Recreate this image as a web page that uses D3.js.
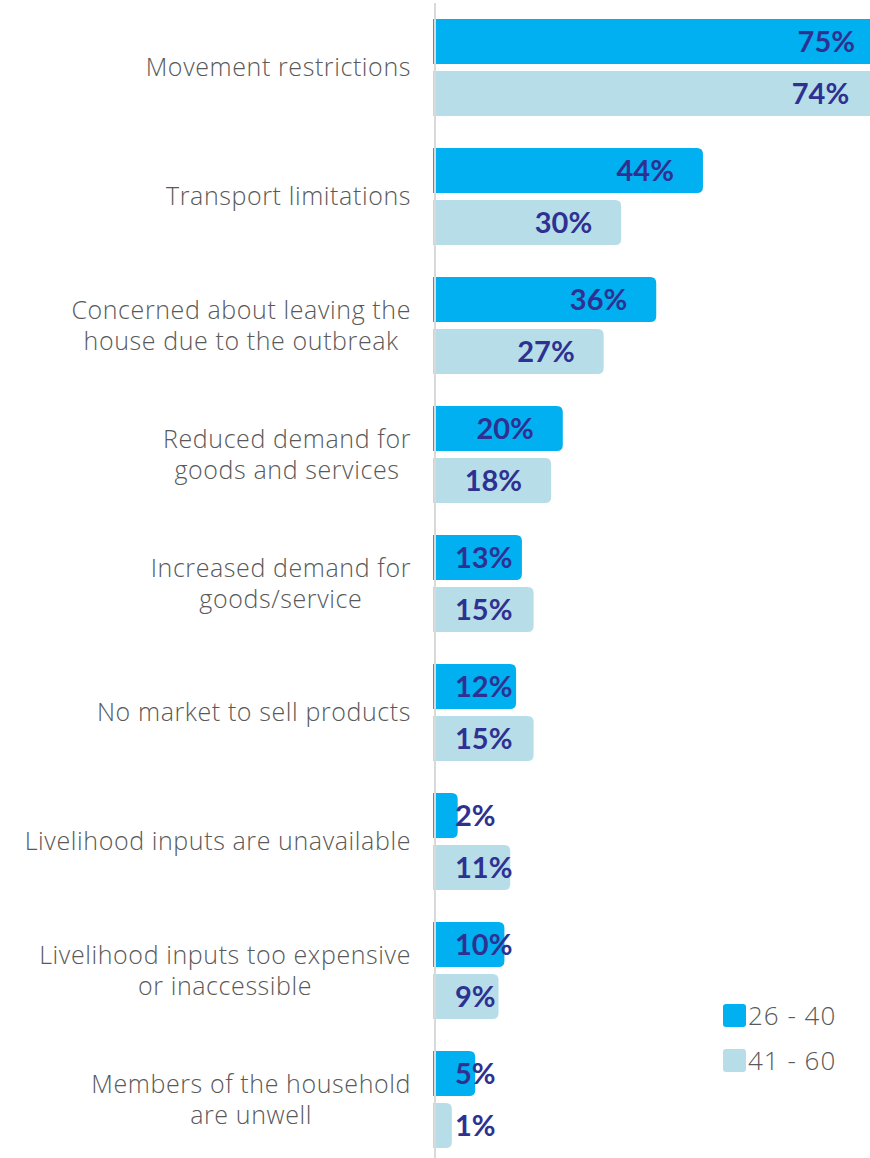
<!DOCTYPE html>
<html>
<head>
<meta charset="utf-8">
<script src="https://cdn.jsdelivr.net/npm/d3@7"></script>
<style>
  body { margin: 0; background: #fff; }
  svg { display: block; }
  .cat { font-family: "Open Sans", sans-serif; font-weight: 300; font-size: 25px; letter-spacing: 0.6px; fill: #595959; }
  .val { font-family: Lato, sans-serif; font-weight: 700; font-size: 29px; fill: #2E3192; }
  .leg { font-family: "Open Sans", sans-serif; font-weight: 300; font-size: 26px; letter-spacing: 1px; fill: #595959; }
</style>
</head>
<body>
<div id="chart"></div>
<script>
// categories, line breaks marked with |
var categories = [
  "Movement restrictions",
  "Transport limitations",
  "Concerned about leaving the|house due to the outbreak",
  "Reduced demand for|goods and services",
  "Increased demand for|goods/service",
  "No market to sell products",
  "Livelihood inputs are unavailable",
  "Livelihood inputs too expensive|or inaccessible",
  "Members of the household|are unwell"
];
var groups = ["26 - 40", "41 - 60"];
var age26to40 = [75, 44, 36, 20, 13, 12, 2, 10, 5];
var age41to60 = [74, 30, 27, 18, 15, 15, 11, 9, 1];
var colors = ["#00B0F0", "#B7DEE8"];

var w = 870, h = 1158;

var svg = d3.select("#chart").append("svg")
    .attr("width", w)
    .attr("height", h);

var x = d3.scaleLinear().domain([0, 75]).range([446, 884]);

var y = d3.scaleBand()
    .domain(categories)
    .range([19, 19 + 129 * categories.length]);

var ySub = d3.scaleBand()
    .domain(groups)
    .range([0, 97])
    .paddingInner(7 / 52);

var rows = [];
categories.forEach(function(c, i) {
    rows.push({ cat: c, grp: groups[0], v: age26to40[i] });
    rows.push({ cat: c, grp: groups[1], v: age41to60[i] });
});

var barLeft = x(0) - 13;
var r = 6;

function barPath(d) {
    var x0 = barLeft, x1 = x(d.v);
    var y0 = y(d.cat) + ySub(d.grp), hh = ySub.bandwidth();
    var rr = Math.min(r, (x1 - x0));
    return "M" + x0 + "," + y0 +
        "H" + (x1 - rr) +
        "Q" + x1 + "," + y0 + " " + x1 + "," + (y0 + rr) +
        "V" + (y0 + hh - rr) +
        "Q" + x1 + "," + (y0 + hh) + " " + (x1 - rr) + "," + (y0 + hh) +
        "H" + x0 + "Z";
}

svg.selectAll("path.bar")
    .data(rows)
    .enter()
    .append("path")
    .attr("class", "bar")
    .attr("d", barPath)
    .attr("fill", function(d) { return colors[groups.indexOf(d.grp)]; });

// axis line
svg.append("line")
    .attr("x1", 435).attr("x2", 435)
    .attr("y1", 3).attr("y2", h)
    .attr("stroke", "#D9D9D9")
    .attr("stroke-width", 2);

// value labels
svg.selectAll("text.val")
    .data(rows)
    .enter()
    .append("text")
    .attr("class", "val")
    .attr("y", function(d) { return y(d.cat) + ySub(d.grp) + ySub.bandwidth() / 2; })
    .attr("dy", "0.36em")
    .text(function(d) { return d.v + "%"; })
    .each(function(d) {
        var len = this.getComputedTextLength();
        var end = x(d.v) - 29;
        var start = Math.max(x(0) + 9, end - len);
        d3.select(this).attr("x", start);
    });

// category labels
var labelRight = 411;
var lineH = 31.5;
svg.selectAll("g.catg")
    .data(categories)
    .enter()
    .append("g")
    .attr("class", "catg")
    .each(function(c) {
        var g = d3.select(this);
        var lines = c.split("|");
        var cy = y(c) + 97 / 2;
        var top = cy - (lines.length - 1) * lineH / 2;
        var texts = g.selectAll("text")
            .data(lines)
            .enter()
            .append("text")
            .attr("class", "cat")
            .attr("y", function(l, i) { return top + i * lineH; })
            .attr("dy", "0.35em")
            .attr("text-anchor", "middle")
            .text(function(l) { return l; });
        var maxW = d3.max(texts.nodes(), function(n) { return n.getComputedTextLength(); });
        texts.attr("x", labelRight - maxW / 2);
    });

// legend
var legend = svg.selectAll("g.legend")
    .data(groups)
    .enter()
    .append("g")
    .attr("class", "legend")
    .attr("transform", function(d, i) { return "translate(723," + (1004 + i * 45) + ")"; });

legend.append("rect")
    .attr("width", 23).attr("height", 23)
    .attr("rx", 3)
    .attr("fill", function(d, i) { return colors[i]; });

legend.append("text")
    .attr("class", "leg")
    .attr("x", 25)
    .attr("y", 11.5)
    .attr("dy", "0.35em")
    .text(function(d) { return d; });
</script>
</body>
</html>
